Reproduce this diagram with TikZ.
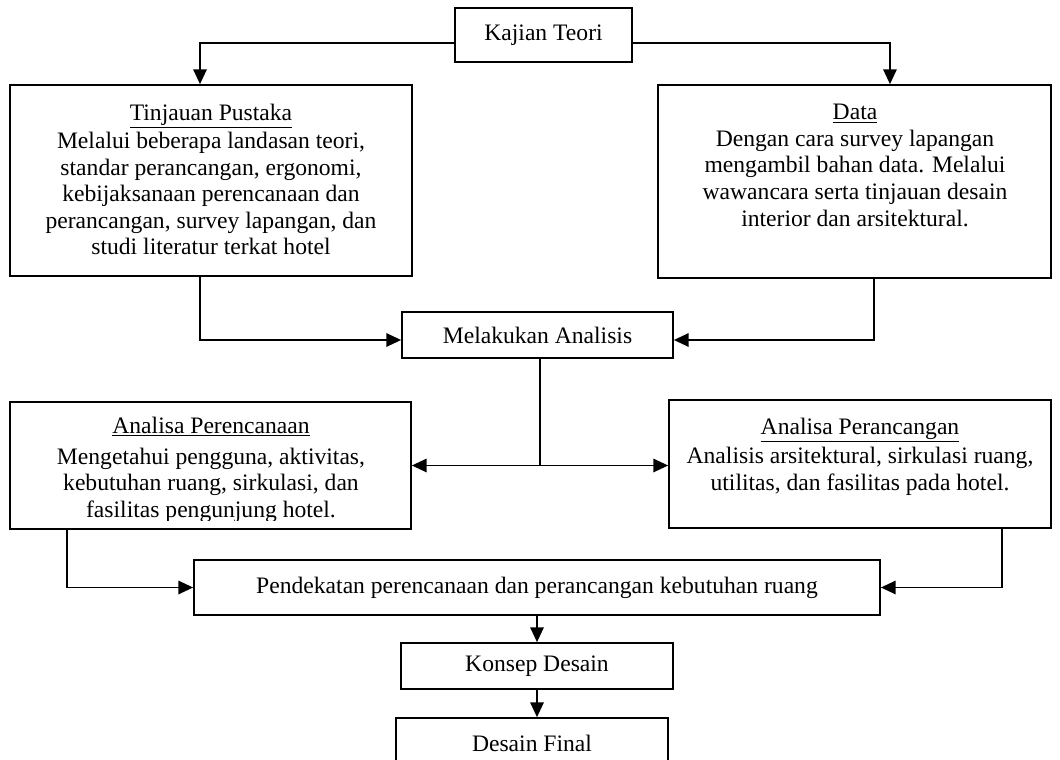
\documentclass[tikz,border=0pt]{standalone}
\usepackage{fontspec}
\setmainfont{Liberation Serif}
\usetikzlibrary{arrows.meta}
\tikzset{
  box/.style 2 args={draw, line width=1.3pt, inner sep=0pt, minimum width=#1*0.75pt, minimum height=#2*0.75pt},
  txt/.style={align=center, inner sep=0pt, anchor=north},
  con/.style={line width=1.2pt, -{Triangle[length=11pt,width=10pt]}},
  dcon/.style={line width=1.2pt, {Triangle[length=11pt,width=10pt]}-{Triangle[length=11pt,width=10pt]}},
  lin/.style={line width=1.2pt},
}
\begin{document}
\begin{tikzpicture}[x=0.75pt, y=-0.75pt, font=\fontsize{17.7}{19.95}\selectfont]
\useasboundingbox (0,0) rectangle (1060,760);

% boxes
\node[box={177}{54}] (kt) at (543.5,35) {Kajian Teori};
\node[box={402}{191}] (tp) at (211,180.5) {};
\node[box={393}{193}] (da) at (854.5,181.5) {};
\node[box={271}{46}] (ma) at (537.5,335) {Melakukan Analisis};
\node[box={401}{127}] (ap) at (210.5,465.5) {};
\node[box={382}{128}] (apr) at (860,464) {};
\node[box={686}{55}] (pd) at (537,587.5) {Pendekatan perencanaan dan perancangan kebutuhan ruang};
\node[box={272}{46}] (kd) at (537,666) {Konsep Desain};
\node[box={272}{50}] (df) at (532,743) {Desain Final};

% box texts
\node[txt] (tptxt) at (211,104) {\underline{Tinjauan Pustaka}\\[1pt]Melalui beberapa landasan teori,\\standar perancangan, ergonomi,\\kebijaksanaan perencanaan dan\\perancangan, survey lapangan, dan\\studi literatur terkat hotel};
\node[txt] (datxt) at (855,104) {\underline{Data}\\Dengan cara survey lapangan\\mengambil bahan data. Melalui\\wawancara serta tinjauan desain\\interior dan arsitektural.};
\begin{scope}
  \clip (10,402) rectangle (411,520);
  \node[txt] (aptxt) at (211,417) {\underline{Analisa Perencanaan}\\[3pt]Mengetahui pengguna, aktivitas,\\kebutuhan ruang, sirkulasi, dan\\fasilitas pengunjung hotel.};
\end{scope}
\node[txt] (aprtxt) at (860,418) {\underline{Analisa Perancangan}\\[2pt]Analisis arsitektural, sirkulasi ruang,\\utilitas, dan fasilitas pada hotel.};

% connectors
\draw[con] ([yshift=-6pt]kt.west) -| ([xshift=-8.25pt]tp.north);
\draw[con] ([yshift=-6pt]kt.east) -| ([xshift=26.6pt]da.north);
\draw[con] ([xshift=-8.25pt]tp.south) |- ([yshift=-3.75pt]ma.west);
\draw[con] ([xshift=14.6pt]da.south) |- ([yshift=-3.75pt]ma.east);
\draw[dcon] (ap.east) -- (ap.east -| apr.west);
\draw[lin] ([xshift=1.9pt]ma.south) -- ([xshift=1.9pt]ma.south |- ap.east);
\draw[con] ([xshift=43.5pt]ap.south west) |- (pd.west);
\draw[con] ([xshift=-37.5pt]apr.south east) |- (pd.east);
\draw[con] (pd.south) -- (pd.south |- kd.north);
\draw[con] (kd.south) -- (kd.south |- df.north);
\end{tikzpicture}
\end{document}
